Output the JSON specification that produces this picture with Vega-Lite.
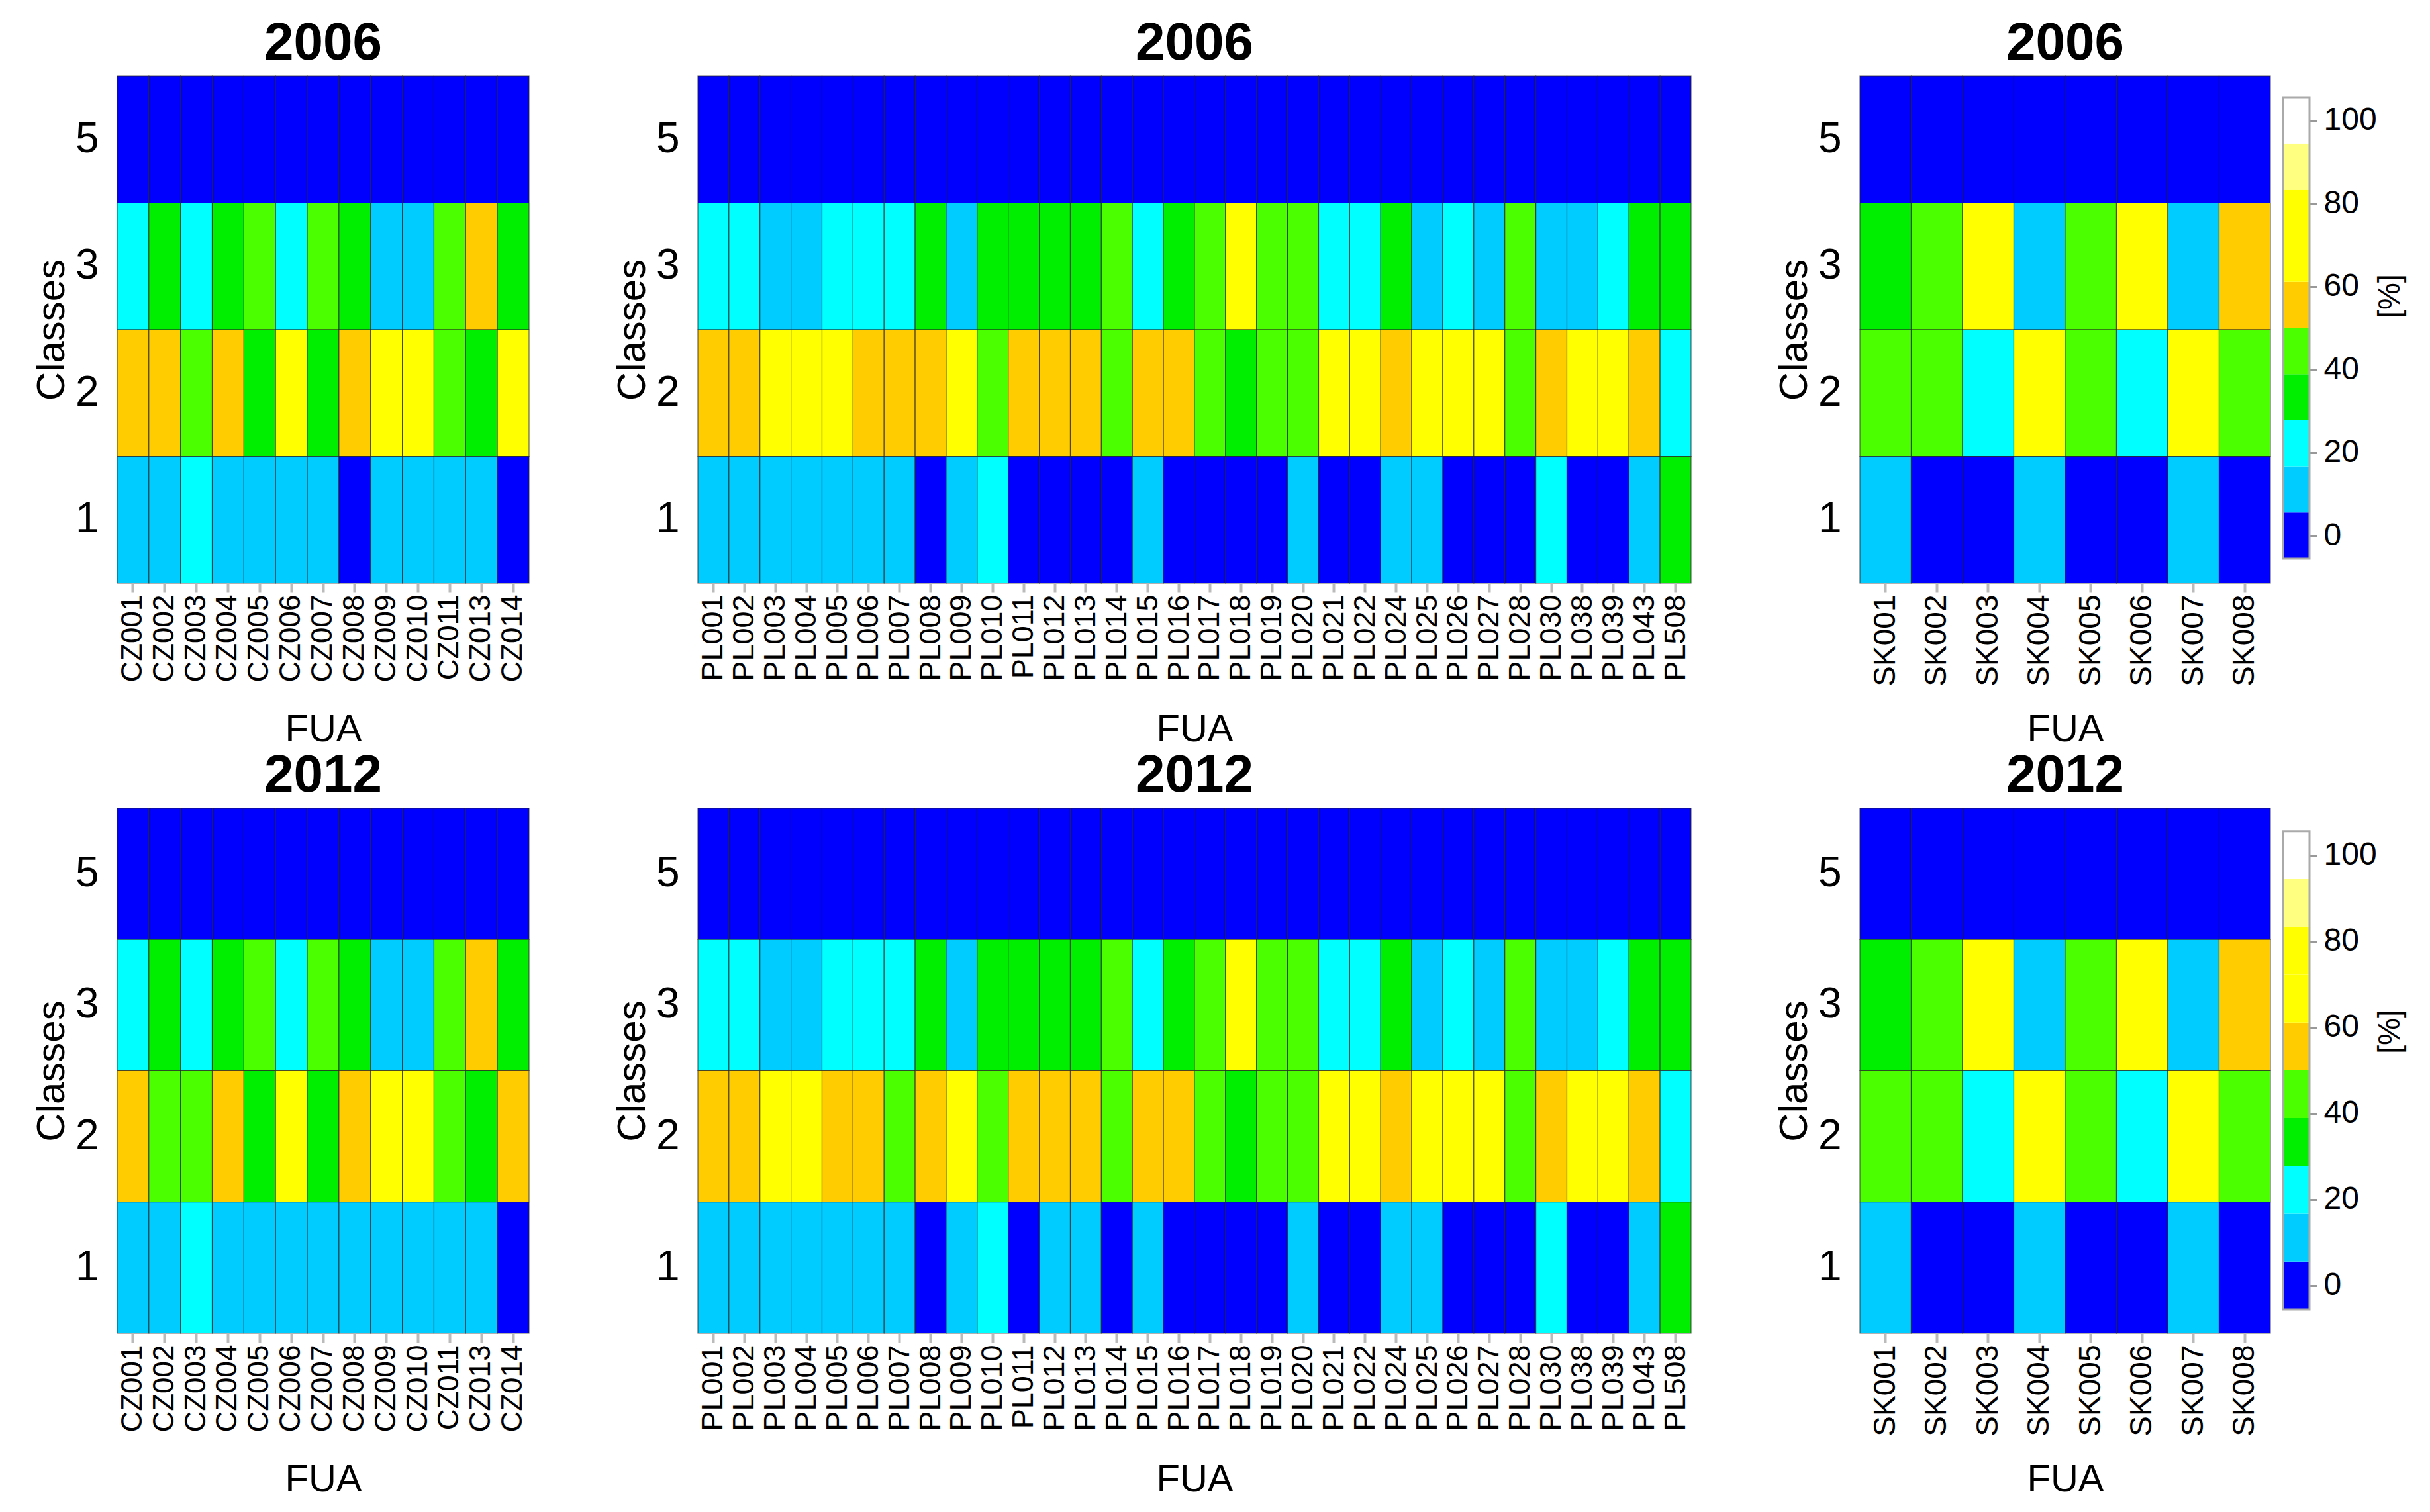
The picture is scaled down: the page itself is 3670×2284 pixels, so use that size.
{
 "$schema": "https://vega.github.io/schema/vega-lite/v6.json",
 "background": "white",
 "padding": {"left": 48, "top": 26, "right": 5, "bottom": 5},
 "datasets": {
  "cz": [
   {"year":2006,"fua":"CZ001","5":0,"3":22,"2":56,"1":11},
   {"year":2006,"fua":"CZ002","5":0,"3":33,"2":56,"1":11},
   {"year":2006,"fua":"CZ003","5":0,"3":22,"2":45,"1":22},
   {"year":2006,"fua":"CZ004","5":0,"3":33,"2":56,"1":11},
   {"year":2006,"fua":"CZ005","5":0,"3":45,"2":33,"1":11},
   {"year":2006,"fua":"CZ006","5":0,"3":22,"2":70,"1":11},
   {"year":2006,"fua":"CZ007","5":0,"3":45,"2":33,"1":11},
   {"year":2006,"fua":"CZ008","5":0,"3":33,"2":56,"1":1},
   {"year":2006,"fua":"CZ009","5":0,"3":11,"2":70,"1":11},
   {"year":2006,"fua":"CZ010","5":0,"3":11,"2":70,"1":11},
   {"year":2006,"fua":"CZ011","5":0,"3":45,"2":45,"1":11},
   {"year":2006,"fua":"CZ013","5":0,"3":56,"2":33,"1":11},
   {"year":2006,"fua":"CZ014","5":0,"3":33,"2":70,"1":1},
   {"year":2012,"fua":"CZ001","5":0,"3":22,"2":56,"1":11},
   {"year":2012,"fua":"CZ002","5":0,"3":33,"2":45,"1":11},
   {"year":2012,"fua":"CZ003","5":0,"3":22,"2":45,"1":22},
   {"year":2012,"fua":"CZ004","5":0,"3":33,"2":56,"1":11},
   {"year":2012,"fua":"CZ005","5":0,"3":45,"2":33,"1":11},
   {"year":2012,"fua":"CZ006","5":0,"3":22,"2":70,"1":11},
   {"year":2012,"fua":"CZ007","5":0,"3":45,"2":33,"1":11},
   {"year":2012,"fua":"CZ008","5":0,"3":33,"2":56,"1":11},
   {"year":2012,"fua":"CZ009","5":0,"3":11,"2":70,"1":11},
   {"year":2012,"fua":"CZ010","5":0,"3":11,"2":70,"1":11},
   {"year":2012,"fua":"CZ011","5":0,"3":45,"2":45,"1":11},
   {"year":2012,"fua":"CZ013","5":0,"3":56,"2":33,"1":11},
   {"year":2012,"fua":"CZ014","5":0,"3":33,"2":56,"1":1}
  ],
  "pl": [
   {"year":2006,"fua":"PL001","5":0,"3":22,"2":56,"1":11},
   {"year":2006,"fua":"PL002","5":0,"3":22,"2":56,"1":11},
   {"year":2006,"fua":"PL003","5":0,"3":11,"2":70,"1":11},
   {"year":2006,"fua":"PL004","5":0,"3":11,"2":70,"1":11},
   {"year":2006,"fua":"PL005","5":0,"3":22,"2":70,"1":11},
   {"year":2006,"fua":"PL006","5":0,"3":22,"2":56,"1":11},
   {"year":2006,"fua":"PL007","5":0,"3":22,"2":56,"1":11},
   {"year":2006,"fua":"PL008","5":0,"3":33,"2":56,"1":1},
   {"year":2006,"fua":"PL009","5":0,"3":11,"2":70,"1":11},
   {"year":2006,"fua":"PL010","5":0,"3":33,"2":45,"1":22},
   {"year":2006,"fua":"PL011","5":0,"3":33,"2":56,"1":1},
   {"year":2006,"fua":"PL012","5":0,"3":33,"2":56,"1":1},
   {"year":2006,"fua":"PL013","5":0,"3":33,"2":56,"1":1},
   {"year":2006,"fua":"PL014","5":0,"3":45,"2":45,"1":1},
   {"year":2006,"fua":"PL015","5":0,"3":22,"2":56,"1":11},
   {"year":2006,"fua":"PL016","5":0,"3":33,"2":56,"1":1},
   {"year":2006,"fua":"PL017","5":0,"3":45,"2":45,"1":1},
   {"year":2006,"fua":"PL018","5":0,"3":70,"2":33,"1":1},
   {"year":2006,"fua":"PL019","5":0,"3":45,"2":45,"1":1},
   {"year":2006,"fua":"PL020","5":0,"3":45,"2":45,"1":11},
   {"year":2006,"fua":"PL021","5":0,"3":22,"2":70,"1":1},
   {"year":2006,"fua":"PL022","5":0,"3":22,"2":70,"1":1},
   {"year":2006,"fua":"PL024","5":0,"3":33,"2":56,"1":11},
   {"year":2006,"fua":"PL025","5":0,"3":11,"2":70,"1":11},
   {"year":2006,"fua":"PL026","5":0,"3":22,"2":70,"1":1},
   {"year":2006,"fua":"PL027","5":0,"3":11,"2":70,"1":1},
   {"year":2006,"fua":"PL028","5":0,"3":45,"2":45,"1":1},
   {"year":2006,"fua":"PL030","5":0,"3":11,"2":56,"1":22},
   {"year":2006,"fua":"PL038","5":0,"3":11,"2":70,"1":1},
   {"year":2006,"fua":"PL039","5":0,"3":22,"2":70,"1":1},
   {"year":2006,"fua":"PL043","5":0,"3":33,"2":56,"1":11},
   {"year":2006,"fua":"PL508","5":0,"3":33,"2":22,"1":33},
   {"year":2012,"fua":"PL001","5":0,"3":22,"2":56,"1":11},
   {"year":2012,"fua":"PL002","5":0,"3":22,"2":56,"1":11},
   {"year":2012,"fua":"PL003","5":0,"3":11,"2":70,"1":11},
   {"year":2012,"fua":"PL004","5":0,"3":11,"2":70,"1":11},
   {"year":2012,"fua":"PL005","5":0,"3":22,"2":56,"1":11},
   {"year":2012,"fua":"PL006","5":0,"3":22,"2":56,"1":11},
   {"year":2012,"fua":"PL007","5":0,"3":22,"2":45,"1":11},
   {"year":2012,"fua":"PL008","5":0,"3":33,"2":56,"1":1},
   {"year":2012,"fua":"PL009","5":0,"3":11,"2":70,"1":11},
   {"year":2012,"fua":"PL010","5":0,"3":33,"2":45,"1":22},
   {"year":2012,"fua":"PL011","5":0,"3":33,"2":56,"1":1},
   {"year":2012,"fua":"PL012","5":0,"3":33,"2":56,"1":11},
   {"year":2012,"fua":"PL013","5":0,"3":33,"2":56,"1":11},
   {"year":2012,"fua":"PL014","5":0,"3":45,"2":45,"1":1},
   {"year":2012,"fua":"PL015","5":0,"3":22,"2":56,"1":11},
   {"year":2012,"fua":"PL016","5":0,"3":33,"2":56,"1":1},
   {"year":2012,"fua":"PL017","5":0,"3":45,"2":45,"1":1},
   {"year":2012,"fua":"PL018","5":0,"3":70,"2":33,"1":1},
   {"year":2012,"fua":"PL019","5":0,"3":45,"2":45,"1":1},
   {"year":2012,"fua":"PL020","5":0,"3":45,"2":45,"1":11},
   {"year":2012,"fua":"PL021","5":0,"3":22,"2":70,"1":1},
   {"year":2012,"fua":"PL022","5":0,"3":22,"2":70,"1":1},
   {"year":2012,"fua":"PL024","5":0,"3":33,"2":56,"1":11},
   {"year":2012,"fua":"PL025","5":0,"3":11,"2":70,"1":11},
   {"year":2012,"fua":"PL026","5":0,"3":22,"2":70,"1":1},
   {"year":2012,"fua":"PL027","5":0,"3":11,"2":70,"1":1},
   {"year":2012,"fua":"PL028","5":0,"3":45,"2":45,"1":1},
   {"year":2012,"fua":"PL030","5":0,"3":11,"2":56,"1":22},
   {"year":2012,"fua":"PL038","5":0,"3":11,"2":70,"1":1},
   {"year":2012,"fua":"PL039","5":0,"3":22,"2":70,"1":1},
   {"year":2012,"fua":"PL043","5":0,"3":33,"2":56,"1":11},
   {"year":2012,"fua":"PL508","5":0,"3":33,"2":22,"1":33}
  ],
  "sk": [
   {"year":2006,"fua":"SK001","5":0,"3":33,"2":45,"1":11},
   {"year":2006,"fua":"SK002","5":0,"3":45,"2":45,"1":1},
   {"year":2006,"fua":"SK003","5":0,"3":70,"2":22,"1":1},
   {"year":2006,"fua":"SK004","5":0,"3":11,"2":70,"1":11},
   {"year":2006,"fua":"SK005","5":0,"3":45,"2":45,"1":1},
   {"year":2006,"fua":"SK006","5":0,"3":70,"2":22,"1":1},
   {"year":2006,"fua":"SK007","5":0,"3":11,"2":70,"1":11},
   {"year":2006,"fua":"SK008","5":0,"3":56,"2":45,"1":1},
   {"year":2012,"fua":"SK001","5":0,"3":33,"2":45,"1":11},
   {"year":2012,"fua":"SK002","5":0,"3":45,"2":45,"1":1},
   {"year":2012,"fua":"SK003","5":0,"3":70,"2":22,"1":1},
   {"year":2012,"fua":"SK004","5":0,"3":11,"2":70,"1":11},
   {"year":2012,"fua":"SK005","5":0,"3":45,"2":45,"1":1},
   {"year":2012,"fua":"SK006","5":0,"3":70,"2":22,"1":1},
   {"year":2012,"fua":"SK007","5":0,"3":11,"2":70,"1":11},
   {"year":2012,"fua":"SK008","5":0,"3":56,"2":45,"1":1}
  ],
  "bands": [
   {"lo":-5.56,"hi":5.56,"mid":0},
   {"lo":5.56,"hi":16.67,"mid":11.11},
   {"lo":16.67,"hi":27.78,"mid":22.22},
   {"lo":27.78,"hi":38.89,"mid":33.33},
   {"lo":38.89,"hi":50,"mid":44.44},
   {"lo":50,"hi":61.11,"mid":55.56},
   {"lo":61.11,"hi":72.22,"mid":66.67},
   {"lo":72.22,"hi":83.33,"mid":77.78},
   {"lo":83.33,"hi":94.44,"mid":88.89},
   {"lo":94.44,"hi":105.56,"mid":100}
  ],
  "frame": [{"lo":-5.56,"hi":105.56}]
 },
 "vconcat": [
  {
   "hconcat": [
    {
     "width": 622, "height": 766,
     "title": {"text": "2006"},
     "data": {"name": "cz"},
     "transform": [{"filter": "datum.year == 2006"}, {"fold": ["5","3","2","1"], "as": ["class","pct"]}],
     "mark": {"type": "rect", "stroke": "#222222", "strokeWidth": 1.2, "strokeOpacity": 0.7},
     "encoding": {
      "x": {"field": "fua", "type": "nominal", "title": "FUA", "scale": {"paddingInner": 0, "paddingOuter": 0}, "axis": {"labelFontSize": 44}},
      "y": {"field": "class", "type": "nominal", "title": "Classes", "sort": ["5","3","2","1"], "scale": {"paddingInner": 0, "paddingOuter": 0}},
      "color": {"field": "pct", "type": "quantitative", "scale": {"type": "threshold", "domain": [5.56,16.67,27.78,38.89,50,61.11,72.22,83.33,94.44], "range": ["#0000FF","#00CCFF","#00FFFF","#00EE00","#4CFF00","#FFCC00","#FFFF00","#FFFF00","#FFFF80","#FFFFFF"]}, "legend": null}
     }
    },
    {
     "width": 1500, "height": 766,
     "title": {"text": "2006"},
     "data": {"name": "pl"},
     "transform": [{"filter": "datum.year == 2006"}, {"fold": ["5","3","2","1"], "as": ["class","pct"]}],
     "mark": {"type": "rect", "stroke": "#222222", "strokeWidth": 1.2, "strokeOpacity": 0.7},
     "encoding": {
      "x": {"field": "fua", "type": "nominal", "title": "FUA", "scale": {"paddingInner": 0, "paddingOuter": 0}, "axis": {"labelFontSize": 45}},
      "y": {"field": "class", "type": "nominal", "title": "Classes", "sort": ["5","3","2","1"], "scale": {"paddingInner": 0, "paddingOuter": 0}},
      "color": {"field": "pct", "type": "quantitative", "scale": {"type": "threshold", "domain": [5.56,16.67,27.78,38.89,50,61.11,72.22,83.33,94.44], "range": ["#0000FF","#00CCFF","#00FFFF","#00EE00","#4CFF00","#FFCC00","#FFFF00","#FFFF00","#FFFF80","#FFFFFF"]}, "legend": null}
     }
    },
    {
     "hconcat": [
      {
       "width": 620, "height": 766,
       "title": {"text": "2006"},
       "data": {"name": "sk"},
       "transform": [{"filter": "datum.year == 2006"}, {"fold": ["5","3","2","1"], "as": ["class","pct"]}],
       "mark": {"type": "rect", "stroke": "#222222", "strokeWidth": 1.2, "strokeOpacity": 0.7},
       "encoding": {
        "x": {"field": "fua", "type": "nominal", "title": "FUA", "scale": {"paddingInner": 0, "paddingOuter": 0}, "axis": {"labelFontSize": 46}},
        "y": {"field": "class", "type": "nominal", "title": "Classes", "sort": ["5","3","2","1"], "scale": {"paddingInner": 0, "paddingOuter": 0}},
        "color": {"field": "pct", "type": "quantitative", "scale": {"type": "threshold", "domain": [5.56,16.67,27.78,38.89,50,61.11,72.22,83.33,94.44], "range": ["#0000FF","#00CCFF","#00FFFF","#00EE00","#4CFF00","#FFCC00","#FFFF00","#FFFF00","#FFFF80","#FFFFFF"]}, "legend": null}
       }
      },
      {
       "width": 40, "height": 766,
       "layer": [
        {
         "data": {"name": "bands"},
         "mark": {"type": "rect"},
         "encoding": {
          "y": {"field": "lo", "type": "quantitative", "scale": {"domain": [-11.46, 110.66], "nice": false, "zero": false},
                "axis": {"orient": "right", "values": [0,20,40,60,80,100], "ticks": true, "tickSize": 11, "tickWidth": 3, "tickColor": "#999999", "labelFontSize": 48, "labelPadding": 10, "title": "[%]", "titleFontSize": 46, "titleAngle": 270, "titleX": 121, "titleY": 332, "titleAlign": "center", "titleBaseline": "middle"}},
          "y2": {"field": "hi"},
          "color": {"field": "mid", "type": "quantitative", "scale": {"type": "threshold", "domain": [5.56,16.67,27.78,38.89,50,61.11,72.22,83.33,94.44], "range": ["#0000FF","#00CCFF","#00FFFF","#00EE00","#4CFF00","#FFCC00","#FFFF00","#FFFF00","#FFFF80","#FFFFFF"]}, "legend": null}
         }
        },
        {
         "data": {"name": "frame"},
         "mark": {"type": "rect", "fillOpacity": 0, "stroke": "#aaaaaa", "strokeWidth": 3},
         "encoding": {"y": {"field": "lo", "type": "quantitative"}, "y2": {"field": "hi"}}
        }
       ]
      }
     ],
     "spacing": 19,
     "bounds": "flush"
    }
   ],
   "spacing": 125
  },
  {
   "hconcat": [
    {
     "width": 622, "height": 793,
     "title": {"text": "2012"},
     "data": {"name": "cz"},
     "transform": [{"filter": "datum.year == 2012"}, {"fold": ["5","3","2","1"], "as": ["class","pct"]}],
     "mark": {"type": "rect", "stroke": "#222222", "strokeWidth": 1.2, "strokeOpacity": 0.7},
     "encoding": {
      "x": {"field": "fua", "type": "nominal", "title": "FUA", "scale": {"paddingInner": 0, "paddingOuter": 0}, "axis": {"labelFontSize": 44}},
      "y": {"field": "class", "type": "nominal", "title": "Classes", "sort": ["5","3","2","1"], "scale": {"paddingInner": 0, "paddingOuter": 0}},
      "color": {"field": "pct", "type": "quantitative", "scale": {"type": "threshold", "domain": [5.56,16.67,27.78,38.89,50,61.11,72.22,83.33,94.44], "range": ["#0000FF","#00CCFF","#00FFFF","#00EE00","#4CFF00","#FFCC00","#FFFF00","#FFFF00","#FFFF80","#FFFFFF"]}, "legend": null}
     }
    },
    {
     "width": 1500, "height": 793,
     "title": {"text": "2012"},
     "data": {"name": "pl"},
     "transform": [{"filter": "datum.year == 2012"}, {"fold": ["5","3","2","1"], "as": ["class","pct"]}],
     "mark": {"type": "rect", "stroke": "#222222", "strokeWidth": 1.2, "strokeOpacity": 0.7},
     "encoding": {
      "x": {"field": "fua", "type": "nominal", "title": "FUA", "scale": {"paddingInner": 0, "paddingOuter": 0}, "axis": {"labelFontSize": 45}},
      "y": {"field": "class", "type": "nominal", "title": "Classes", "sort": ["5","3","2","1"], "scale": {"paddingInner": 0, "paddingOuter": 0}},
      "color": {"field": "pct", "type": "quantitative", "scale": {"type": "threshold", "domain": [5.56,16.67,27.78,38.89,50,61.11,72.22,83.33,94.44], "range": ["#0000FF","#00CCFF","#00FFFF","#00EE00","#4CFF00","#FFCC00","#FFFF00","#FFFF00","#FFFF80","#FFFFFF"]}, "legend": null}
     }
    },
    {
     "hconcat": [
      {
       "width": 620, "height": 793,
       "title": {"text": "2012"},
       "data": {"name": "sk"},
       "transform": [{"filter": "datum.year == 2012"}, {"fold": ["5","3","2","1"], "as": ["class","pct"]}],
       "mark": {"type": "rect", "stroke": "#222222", "strokeWidth": 1.2, "strokeOpacity": 0.7},
       "encoding": {
        "x": {"field": "fua", "type": "nominal", "title": "FUA", "scale": {"paddingInner": 0, "paddingOuter": 0}, "axis": {"labelFontSize": 46}},
        "y": {"field": "class", "type": "nominal", "title": "Classes", "sort": ["5","3","2","1"], "scale": {"paddingInner": 0, "paddingOuter": 0}},
        "color": {"field": "pct", "type": "quantitative", "scale": {"type": "threshold", "domain": [5.56,16.67,27.78,38.89,50,61.11,72.22,83.33,94.44], "range": ["#0000FF","#00CCFF","#00FFFF","#00EE00","#4CFF00","#FFCC00","#FFFF00","#FFFF00","#FFFF80","#FFFFFF"]}, "legend": null}
       }
      },
      {
       "width": 40, "height": 793,
       "layer": [
        {
         "data": {"name": "bands"},
         "mark": {"type": "rect"},
         "encoding": {
          "y": {"field": "lo", "type": "quantitative", "scale": {"domain": [-11.1, 110.9], "nice": false, "zero": false},
                "axis": {"orient": "right", "values": [0,20,40,60,80,100], "ticks": true, "tickSize": 11, "tickWidth": 3, "tickColor": "#999999", "labelFontSize": 48, "labelPadding": 10, "title": "[%]", "titleFontSize": 46, "titleAngle": 270, "titleX": 121, "titleY": 337, "titleAlign": "center", "titleBaseline": "middle"}},
          "y2": {"field": "hi"},
          "color": {"field": "mid", "type": "quantitative", "scale": {"type": "threshold", "domain": [5.56,16.67,27.78,38.89,50,61.11,72.22,83.33,94.44], "range": ["#0000FF","#00CCFF","#00FFFF","#00EE00","#4CFF00","#FFCC00","#FFFF00","#FFFF00","#FFFF80","#FFFFFF"]}, "legend": null}
         }
        },
        {
         "data": {"name": "frame"},
         "mark": {"type": "rect", "fillOpacity": 0, "stroke": "#aaaaaa", "strokeWidth": 3},
         "encoding": {"y": {"field": "lo", "type": "quantitative"}, "y2": {"field": "hi"}}
        }
       ]
      }
     ],
     "spacing": 19,
     "bounds": "flush"
    }
   ],
   "spacing": 125
  }
 ],
 "spacing": 1,
 "config": {
  "font": "Liberation Sans",
  "view": {"stroke": null},
  "title": {"fontSize": 80, "fontWeight": "bold", "color": "#000000", "offset": 7, "frame": "group", "anchor": "middle"},
  "axis": {"grid": false, "domain": false, "labelColor": "#000000", "titleColor": "#000000", "titleFontWeight": "normal"},
  "axisX": {"labelAngle": -90, "tickColor": "#bbbbbb", "tickWidth": 4, "tickSize": 14, "labelPadding": 3, "titleFontSize": 58, "titleY": 238, "titleBaseline": "alphabetic", "labelOverlap": false, "labelLimit": 0},
  "axisY": {"ticks": false, "labelFontSize": 64, "labelAngle": 0, "labelPadding": 28, "titleFontSize": 60, "titlePadding": 4}
 }
}
